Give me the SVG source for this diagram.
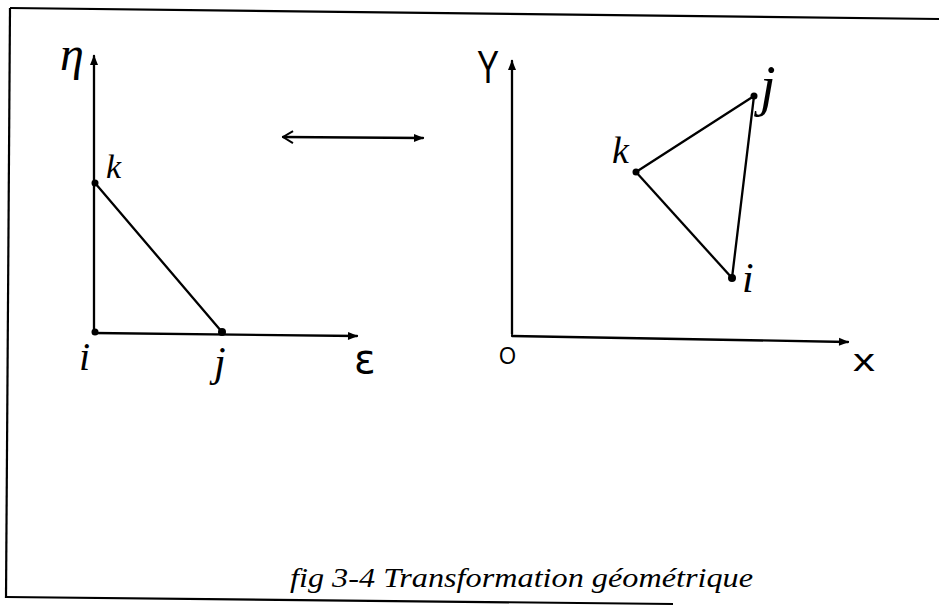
<svg xmlns="http://www.w3.org/2000/svg" width="939" height="606" viewBox="0 0 939 606">
<style>
.ln{stroke:#000;stroke-width:2.3;fill:none;stroke-linecap:round;stroke-linejoin:round}
.frame{stroke:#000;stroke-width:2.2;fill:none}
.pt{fill:#000}
.hw{font-family:"Liberation Serif","DejaVu Serif",serif;font-style:italic;fill:#000}
.hs{font-family:"Liberation Sans","DejaVu Sans",sans-serif;fill:#000}
.cap{font-family:"Liberation Serif","DejaVu Serif",serif;font-style:italic;font-size:28px;fill:#000}
</style>
<defs>
<marker id="tip" viewBox="0 0 10 10" refX="9" refY="5" markerWidth="11" markerHeight="10" markerUnits="userSpaceOnUse" orient="auto">
<path d="M0,1 L10,5 L0,9 z" fill="#000"/>
</marker>
<marker id="chev" viewBox="0 0 12 14" refX="11" refY="7" markerWidth="12" markerHeight="14" markerUnits="userSpaceOnUse" orient="auto-start-reverse">
<path d="M1,1 L11,7 L1,13" fill="none" stroke="#000" stroke-width="2"/>
</marker>
</defs>
<rect width="939" height="606" fill="#fff"/>
<g id="frame">
<path class="frame" d="M10,8 L939,19"/>
<path class="frame" d="M10,8 L6,598"/>
<path class="frame" d="M6,597 L673,604"/>
</g>
<g id="left-axes">
<path class="ln" d="M94,333 L94,56" marker-end="url(#tip)"/>
<path class="ln" d="M94,333 L357,336" marker-end="url(#tip)"/>
<text class="hw" x="60" y="70" font-size="48">η</text>
<text x="354" y="373" font-family="DejaVu Sans, sans-serif" font-size="40" fill="#000">ε</text>
</g>
<g id="right-axes">
<path class="ln" d="M512,334 L512,61" marker-end="url(#tip)"/>
<path class="ln" d="M512,336 L848,342" marker-end="url(#tip)"/>
<text class="hs" x="477" y="83" font-size="46" textLength="22" lengthAdjust="spacingAndGlyphs">Y</text>
<text class="hs" x="499" y="364" font-size="24" textLength="17" lengthAdjust="spacingAndGlyphs">O</text>
<text class="hs" x="853" y="371" font-size="32" textLength="22" lengthAdjust="spacingAndGlyphs">x</text>
</g>
<g id="left-k">
<circle class="pt" cx="95" cy="183" r="3.5"/>
<text class="hw" x="106" y="178" font-size="34">k</text>
</g>
<g id="left-i">
<circle class="pt" cx="95" cy="332" r="3.5"/>
<text class="hw" x="79" y="370" font-size="40">i</text>
</g>
<g id="left-j">
<circle class="pt" cx="222" cy="332" r="4"/>
<text class="hw" x="214" y="376" font-size="42">j</text>
</g>
<g id="right-k">
<circle class="pt" cx="636" cy="172" r="3.5"/>
<text class="hw" x="612" y="163" font-size="38">k</text>
</g>
<g id="right-j">
<circle class="pt" cx="754" cy="96" r="3.5"/>
<text class="hw" x="760" y="105" font-size="56">j</text>
</g>
<g id="right-i">
<circle class="pt" cx="732" cy="278" r="4"/>
<text class="hw" x="742" y="292" font-size="42">i</text>
</g>
<g id="connectors">
<path class="ln" d="M95,183 L222,332"/>
<path class="ln" d="M636,172 L754,96"/>
<path class="ln" d="M754,96 L732,278"/>
<path class="ln" d="M636,172 L732,278"/>
<path class="ln" d="M283,137 L423,138" marker-start="url(#chev)" marker-end="url(#tip)"/>
</g>
<text class="cap" x="290" y="587" textLength="463" lengthAdjust="spacingAndGlyphs">fig 3-4 Transformation géométrique</text>
</svg>
